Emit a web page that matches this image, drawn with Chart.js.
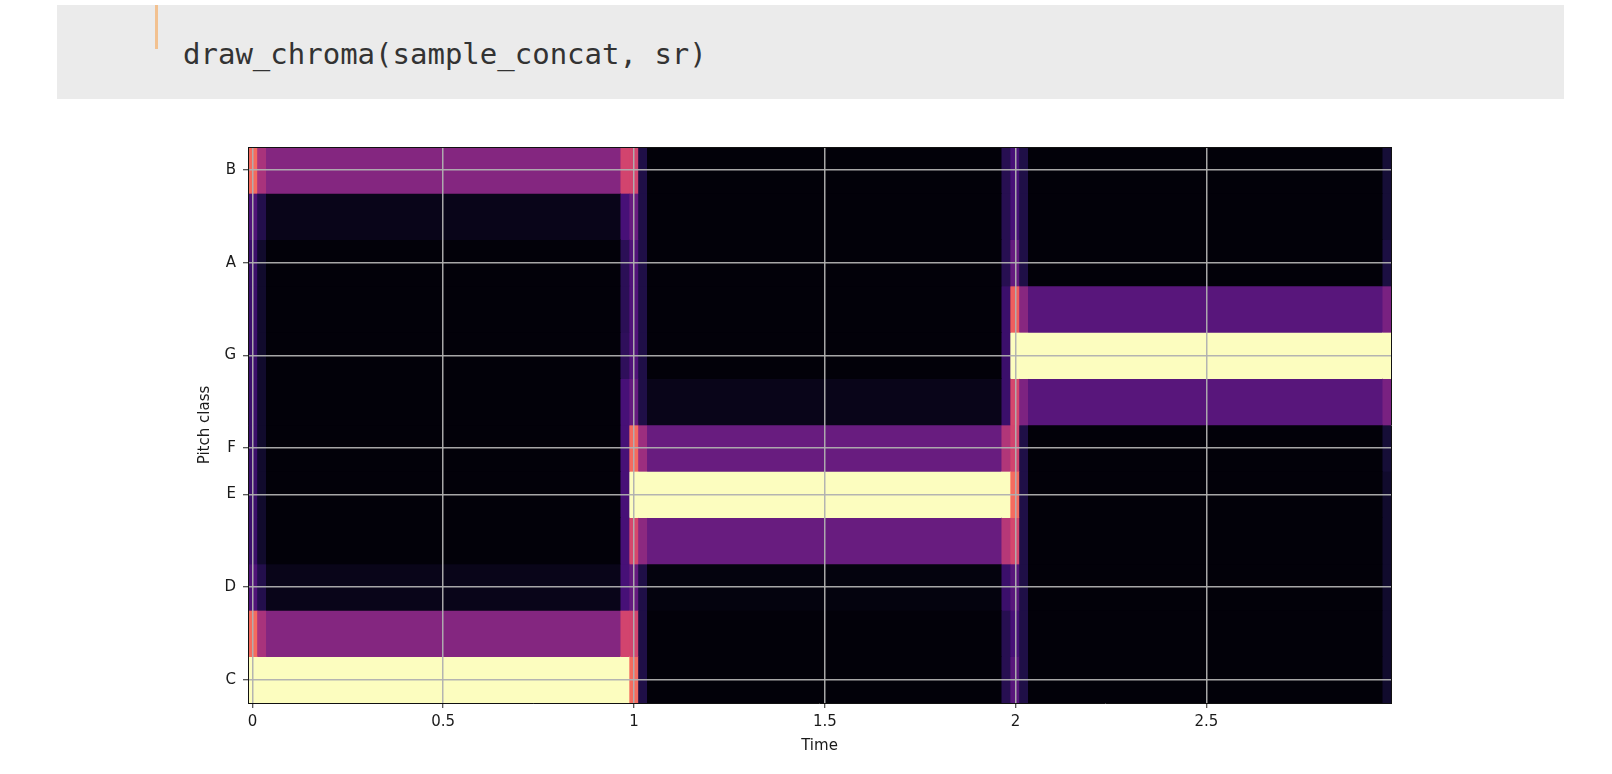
<!DOCTYPE html>
<html><head><meta charset="utf-8">
<script src="https://cdn.jsdelivr.net/npm/chart.js@4.4.1/dist/chart.umd.min.js"></script>
<style>
html,body{margin:0;padding:0;background:#fff;width:1612px;height:774px;overflow:hidden;}
#cell{position:absolute;left:57px;top:5px;width:1507px;height:94px;background:#ebebeb;}
#bar{position:absolute;left:155px;top:5px;width:3px;height:44px;background:#f2c190;}
#code{position:absolute;left:183px;top:37px;font-family:"DejaVu Sans Mono",monospace;font-size:29px;line-height:34px;color:#333;white-space:pre;}
#wrap{position:absolute;left:0;top:0;width:1612px;height:774px;}
</style></head>
<body>
<div id="cell"></div><div id="bar"></div><div id="code">draw_chroma(sample_concat, sr)</div>
<div id="wrap"><canvas id="c" width="1612" height="774"></canvas></div>
<script>
// ---- data ----
const pitchClasses = ['C','C♯','D','D♯','E','F','F♯','G','G♯','A','A♯','B'];
const frameSeconds = 512 / 22050;           // hop length / sample rate
const segmentStartFrames = [0, 1, 2, 42, 43, 44, 45, 85, 86, 87, 88, 128];
const segmentEndFrames   = [0, 1, 41, 42, 43, 44, 84, 85, 86, 87, 127, 128];
// chroma values per segment, in pitch-class order C..B
const chromaF0   = [1.00, 0.69, 0.25, 0.20, 0.20, 0.20, 0.20, 0.20, 0.20, 0.20, 0.25, 0.69];
const chromaF1   = [1.00, 0.47, 0.14, 0.08, 0.08, 0.08, 0.08, 0.08, 0.08, 0.08, 0.14, 0.47];
const chromaC    = [1.00, 0.38, 0.04, 0.01, 0.01, 0.01, 0.01, 0.01, 0.01, 0.01, 0.04, 0.38];
const chromaF42  = [1.00, 0.57, 0.23, 0.23, 0.23, 0.23, 0.23, 0.17, 0.16, 0.16, 0.23, 0.57];
const chromaF43  = [0.69, 0.57, 0.30, 0.58, 1.00, 0.69, 0.30, 0.25, 0.25, 0.25, 0.31, 0.57];
const chromaF44  = [0.13, 0.13, 0.13, 0.40, 1.00, 0.44, 0.13, 0.13, 0.13, 0.13, 0.13, 0.13];
const chromaE    = [0.01, 0.01, 0.02, 0.31, 1.00, 0.31, 0.04, 0.01, 0.01, 0.01, 0.01, 0.01];
const chromaF85  = [0.15, 0.15, 0.20, 0.50, 1.00, 0.49, 0.20, 0.20, 0.20, 0.15, 0.15, 0.15];
const chromaF86  = [0.27, 0.23, 0.27, 0.58, 0.69, 0.57, 0.58, 1.00, 0.66, 0.30, 0.23, 0.23];
const chromaF87  = [0.13, 0.13, 0.13, 0.13, 0.13, 0.13, 0.36, 1.00, 0.39, 0.13, 0.13, 0.13];
const chromaG    = [0.01, 0.01, 0.01, 0.01, 0.01, 0.01, 0.27, 1.00, 0.27, 0.01, 0.01, 0.01];
const chromaF128 = [0.08, 0.08, 0.08, 0.08, 0.08, 0.10, 0.35, 1.00, 0.35, 0.12, 0.10, 0.10];
const segmentChroma = [chromaF0, chromaF1, chromaC, chromaF42, chromaF43, chromaF44, chromaE,
                       chromaF85, chromaF86, chromaF87, chromaG, chromaF128];
const xTicks = [0, 0.5, 1, 1.5, 2, 2.5];
const magmaStops = ['#000004','#180f3d','#440f76','#721f81','#9e2f7f','#cd4071','#f1605d','#fd9668','#feca8d','#fcfdbf'];

// ---- colormap ----
function hexRgb(h){return [parseInt(h.slice(1,3),16),parseInt(h.slice(3,5),16),parseInt(h.slice(5,7),16)];}
const magmaRgb = magmaStops.map(hexRgb);
function magma(v){
  v = Math.max(0, Math.min(1, v));
  const p = v * (magmaRgb.length - 1);
  const i = Math.min(Math.floor(p), magmaRgb.length - 2);
  const f = p - i;
  const a = magmaRgb[i], b = magmaRgb[i+1];
  return 'rgb(' + a.map((c,k)=>Math.round(c + (b[k]-c)*f)).join(',') + ')';
}

const xMin = -0.5 * frameSeconds;
const xMax = (segmentEndFrames[segmentEndFrames.length-1] + 0.5) * frameSeconds;

const datasets = segmentChroma.map((vals, s) => {
  const t0 = (segmentStartFrames[s] - 0.5) * frameSeconds;
  const t1 = (segmentEndFrames[s] + 0.5) * frameSeconds;
  return {
    data: pitchClasses.map(() => [t0, t1]),
    backgroundColor: vals.map(magma),
    xAxisID: 'x', yAxisID: 'y'
  };
});

const gridGrey = 'rgba(176,176,176,0.95)';
const txt = '#1a1a1a';
const fnt = {family: 'DejaVu Sans', size: 15};
const isNatural = v => !pitchClasses[v].includes('♯');

new Chart(document.getElementById('c'), {
  type: 'bar',
  data: {labels: pitchClasses, datasets},
  options: {
    responsive: false, animation: false, indexAxis: 'y',
    layout: {padding: {left: 178, right: 221, top: 147, bottom: 0}},
    plugins: {legend: {display: false}, tooltip: {enabled: false}},
    datasets: {bar: {grouped: false, barPercentage: 1, categoryPercentage: 1, borderWidth: 0}},
    scales: {
      x: {
        type: 'linear', position: 'bottom', min: xMin, max: xMax,
        afterBuildTicks: s => { s.ticks = xTicks.map(v => ({value: v})); },
        afterFit: s => { s.height = 71; },
        ticks: {color: txt, font: fnt, padding: 5, maxRotation: 0, autoSkip: false, callback: v => String(v)},
        grid: {z: 1, color: gridGrey, lineWidth: 1.5, tickLength: 5, tickColor: '#222', tickWidth: 1},
        border: {z: 2, color: '#111', width: 1},
        title: {display: true, text: 'Time', color: txt, font: fnt, padding: {top: 0, bottom: 19}}
      },
      y: {
        type: 'category', position: 'left', reverse: true, offset: true,
        afterFit: s => { s.width = 70; },
        ticks: {color: txt, font: fnt, padding: 7, autoSkip: false,
          callback: function(v){ return isNatural(v) ? this.getLabelForValue(v) : ''; }},
        grid: {z: 1, offset: false, lineWidth: 1.5, tickLength: 5, tickWidth: 1,
          color: c => (c.tick && isNatural(c.tick.value)) ? gridGrey : 'rgba(0,0,0,0)',
          tickColor: c => (c.tick && isNatural(c.tick.value)) ? '#222' : 'rgba(0,0,0,0)'},
        border: {z: 2, color: '#111', width: 1},
        title: {display: true, text: 'Pitch class', color: txt, font: fnt, padding: {top: 18, bottom: 0}}
      },
      x2: {
        type: 'linear', position: 'top', min: xMin, max: xMax,
        afterFit: s => { s.height = 0; },
        ticks: {display: false}, grid: {display: false, drawTicks: false},
        border: {display: true, z: 2, color: '#111', width: 1}
      },
      y2: {
        type: 'linear', position: 'right', min: 0, max: 1,
        afterFit: s => { s.width = 0; },
        ticks: {display: false}, grid: {display: false, drawTicks: false},
        border: {display: true, z: 2, color: '#111', width: 1}
      }
    }
  }
});
</script>
</body></html>
